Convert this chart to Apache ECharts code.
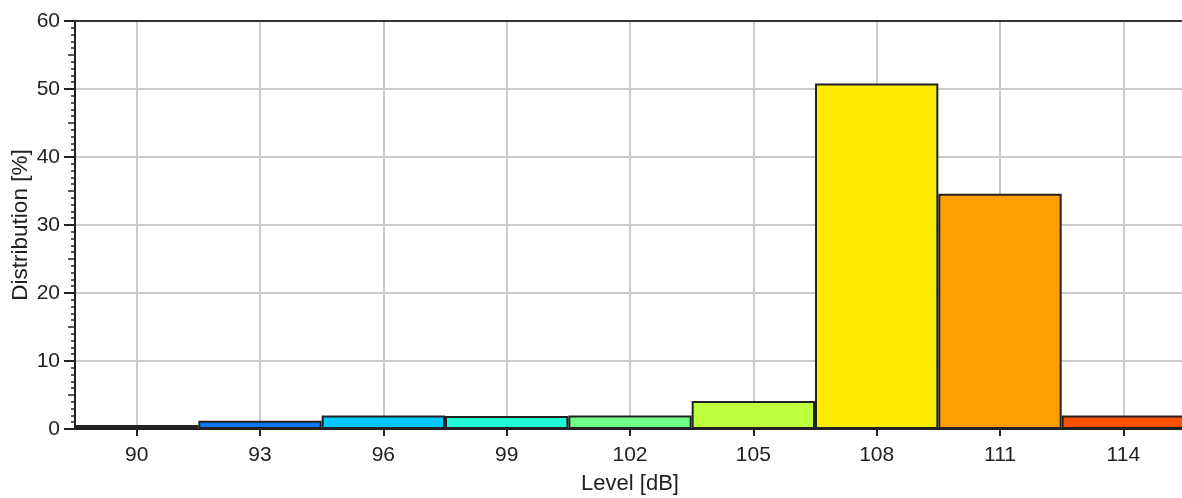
<!DOCTYPE html>
<html>
<head>
<meta charset="utf-8">
<script src="https://cdn.jsdelivr.net/npm/echarts@6/dist/echarts.min.js"></script>
<style>
html,body{margin:0;padding:0;background:#fff;}
#chart{width:1182px;height:498px;}
</style>
</head>
<body>
<div id="chart"></div>
<script>
const categories = ['90','93','96','99','102','105','108','111','114'];
const distribution = [0.6, 1.2, 2.0, 1.9, 2.0, 4.1, 50.8, 34.6, 2.0];
const barColors = ['#0a1fb4','#0a78f0','#00c8ff','#20ffd8','#70ff88','#c0ff40','#ffeb00','#ff9e00','#ff5000'];
const yTicks = [0,10,20,30,40,50,60];

const font = 'Liberation Sans, Arial, sans-serif';
const chart = echarts.init(document.getElementById('chart'));
chart.setOption({
  animation: false,
  backgroundColor: '#fff',
  grid: {left: 75, width: 1110, top: 21, bottom: 69, containLabel: false, outerBoundsMode: 'none'},
  xAxis: {
    type: 'category',
    data: categories,
    name: 'Level [dB]',
    nameLocation: 'middle',
    nameGap: 44,
    nameMoveOverlap: false,
    nameTextStyle: {fontFamily: font, fontSize: 22, color: '#222'},
    axisLine: {show: true, onZero: false, lineStyle: {color: '#222', width: 2}},
    axisTick: {show: true, alignWithLabel: true, length: 7, lineStyle: {color: '#222', width: 2}},
    axisLabel: {fontFamily: font, fontSize: 21, color: '#222', margin: 16},
    splitLine: {show: true, alignWithLabel: true, lineStyle: {color: '#cccccc', width: 2}}
  },
  yAxis: [{
    type: 'value',
    min: 0, max: 60, interval: 10,
    name: 'Distribution [%]',
    nameLocation: 'middle',
    nameGap: 43,
    nameMoveOverlap: false,
    nameTextStyle: {fontFamily: font, fontSize: 22.5, color: '#222'},
    axisLine: {show: true, lineStyle: {color: '#222', width: 2}},
    axisTick: {show: true, length: 11, lineStyle: {color: '#222', width: 2}},
    minorTick: {show: true, splitNumber: 10, length: 4, lineStyle: {color: '#222', width: 1.5}},
    axisLabel: {fontFamily: font, fontSize: 21, color: '#222', margin: 15,
      formatter: function (v) { return yTicks.indexOf(v) >= 0 ? String(v) : ''; }},
    splitLine: {show: true, lineStyle: {color: '#cccccc', width: 2}}
  }, {
    type: 'value',
    min: 0, max: 60, interval: 5,
    position: 'left',
    axisLine: {show: false},
    axisTick: {show: true, length: 7, lineStyle: {color: '#222', width: 1.5}},
    axisLabel: {show: false},
    splitLine: {show: false}
  }],
  series: [{
    type: 'bar',
    data: distribution.map((v, i) => ({value: v, itemStyle: {color: barColors[i]}})),
    barWidth: '100%',
    barGap: '0%',
    itemStyle: {borderColor: '#222', borderWidth: 2},
    z: 3
  }],
  graphic: [{
    type: 'line',
    shape: {x1: 75, y1: 21, x2: 1182, y2: 21},
    style: {stroke: '#333', lineWidth: 2},
    z: 10
  }]
});
</script>
</body>
</html>
